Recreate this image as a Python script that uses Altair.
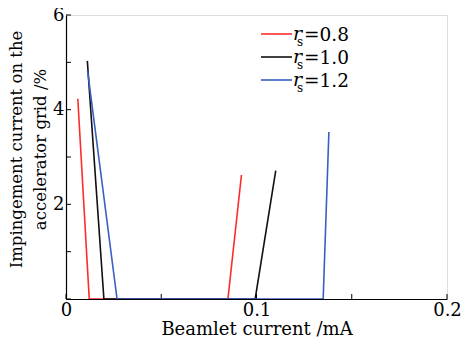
import altair as alt
import pandas as pd

# data
series = ["rs=0.8", "rs=1.0", "rs=1.2"]
x_08 = [0.0062, 0.0122, 0.085, 0.0921]
y_08 = [4.23, 0.0, 0.0, 2.62]
x_10 = [0.0112, 0.0199, 0.0993, 0.1101]
y_10 = [5.03, 0.0, 0.0, 2.71]
x_12 = [0.0113, 0.0268, 0.1350, 0.1380]
y_12 = [4.83, 0.0, 0.0, 3.53]
colors = ["#ff2b2b", "#111111", "#3a5fc0"]
legend_vals = ["=0.8", "=1.0", "=1.2"]
x_ticks = [0, 0.05, 0.1, 0.15, 0.2]
y_ticks = [0, 1, 2, 3, 4, 5, 6]

FONT = "DejaVu Serif"
W, H = 381, 284

rows = []
for name, xs, ys in [(series[0], x_08, y_08), (series[1], x_10, y_10), (series[2], x_12, y_12)]:
    for i, (a, b) in enumerate(zip(xs, ys)):
        rows.append({"series": name, "x": a, "y": b, "i": i})
df = pd.DataFrame(rows)

xs = alt.Scale(domain=[0, 0.2], nice=False)
ys = alt.Scale(domain=[0, 6], nice=False)
cs = alt.Scale(domain=series, range=colors)

xaxis = alt.Axis(values=x_ticks, tickSize=0, domainColor="black", domainWidth=1.2,
                 labelExpr="(datum.value == 0.05 || datum.value == 0.15) ? '' : format(datum.value, '~g')",
                 labelFont=FONT, labelFontSize=18, labelColor="black", labelPadding=2,
                 title="Beamlet current /mA", titleFont=FONT, titleFontSize=18,
                 titleFontWeight="normal", titleColor="black", titlePadding=1, grid=False,
                 labelFlush=False)
yaxis = alt.Axis(values=y_ticks, tickSize=0, domainColor="black", domainWidth=1.2,
                 labelExpr="(datum.value == 0 || datum.value % 2 == 1) ? '' : format(datum.value, '~g')",
                 labelFont=FONT, labelFontSize=18, labelColor="black", labelPadding=2,
                 title=["Impingement current on the", "accelerator grid /%"],
                 titleFont=FONT, titleFontSize=16.5, titleFontWeight="normal", titleColor="black",
                 titlePadding=4, titleLineHeight=24, titleY=134, grid=False)

lines = alt.Chart(df).mark_line(strokeWidth=1.6, clip=True).encode(
    x=alt.X("x:Q", scale=xs, axis=xaxis),
    y=alt.Y("y:Q", scale=ys, axis=yaxis),
    color=alt.Color("series:N", scale=cs, legend=None),
    detail="series:N",
    order="i:Q",
)

xt = alt.Chart(pd.DataFrame({"v": x_ticks})).mark_rule(color="black", strokeWidth=1).encode(
    x=alt.X("v:Q", scale=xs), y=alt.value(H), y2=alt.value(H - 5))
yt = alt.Chart(pd.DataFrame({"v": y_ticks})).mark_rule(color="black", strokeWidth=1).encode(
    y=alt.Y("v:Q", scale=ys), x=alt.value(0), x2=alt.value(5))

layers = [xt, yt, lines]
ldf = pd.DataFrame({"k": [0]})
for k in range(3):
    yy = 19 + 23 * k
    layers.append(alt.Chart(ldf).mark_rule(color=colors[k], strokeWidth=1.6).encode(
        x=alt.value(195), x2=alt.value(226), y=alt.value(yy)))
    layers.append(alt.Chart(ldf).mark_text(text="r", font=FONT, fontSize=19, fontStyle="italic",
                                           align="left", baseline="alphabetic", color="black").encode(
        x=alt.value(227), y=alt.value(yy + 6)))
    layers.append(alt.Chart(ldf).mark_text(text="s", font=FONT, fontSize=12,
                                           align="left", baseline="alphabetic", color="black").encode(
        x=alt.value(231), y=alt.value(yy + 12)))
    layers.append(alt.Chart(ldf).mark_text(text=legend_vals[k], font=FONT, fontSize=18.5,
                                           align="left", baseline="alphabetic", color="black").encode(
        x=alt.value(238), y=alt.value(yy + 7)))

chart = alt.layer(*layers).properties(
    width=W, height=H,
    autosize=alt.AutoSizeParams(type="none"),
    padding={"left": 58, "top": 7, "right": 14, "bottom": 40},
).configure_view(stroke=None).configure(background="white")

chart.save("out.html", embed_options={"renderer": "svg", "actions": False})
